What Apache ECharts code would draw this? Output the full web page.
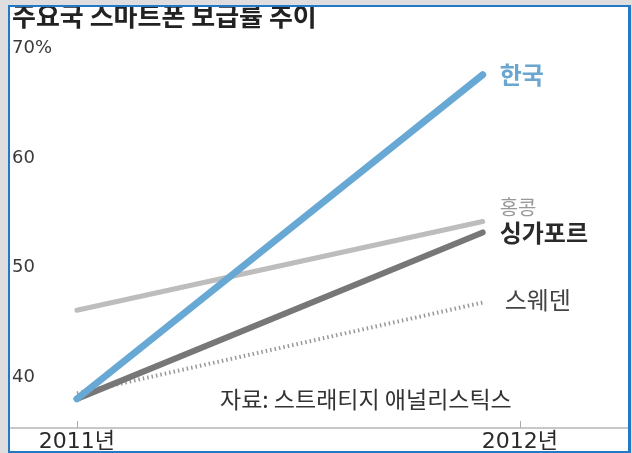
<!DOCTYPE html>
<html>
<head>
<meta charset="utf-8">
<script src="https://cdn.jsdelivr.net/npm/echarts@6/dist/echarts.min.js"></script>
<style>
  html, body { margin: 0; padding: 0; background: #dedede; width: 632px; height: 453px; overflow: hidden; }
  #chart {
    position: absolute; left: 8px; top: 5px; width: 623px; height: 448px;
    box-sizing: border-box; border: 2px solid #2478c8; border-right-width: 3px;
    background: #fff;
  }
</style>
</head>
<body>
<div id="chart"></div>
<script>
// 연도 (x 위치), 선 끝은 2012 눈금보다 조금 앞
const years = [2011, 2011.916];
const yearTicks = [2011, 2012];
const pctTicks = [40, 50, 60, 70];

// 보급률 (%)
const korea = [38, 67.6];
const hongKong = [46.1, 54.2];
const singapore = [38, 53.2];
const sweden = [38.5, 46.8];

const names = ['스웨덴', '홍콩', '싱가포르', '한국'];

const toPts = arr => arr.map((v, i) => [years[i], v]);

const cjk = '"Noto Sans CJK KR", "DejaVu Sans", sans-serif';
const num = '"DejaVu Sans", "Noto Sans CJK KR", sans-serif';

const chart = echarts.init(document.getElementById('chart'));
chart.setOption({
    animation: false,
    title: {
        text: '주요국 스마트폰 보급률 추이',
        left: 2,
        top: -4,
        padding: 0,
        textStyle: { fontFamily: cjk, fontSize: 26, fontWeight: 'bold', color: '#222' }
    },
    grid: { left: 0, right: 0, top: 41.5, bottom: 23, containLabel: false, outerBoundsMode: 'none' },
    xAxis: {
        type: 'value',
        min: 2010.849,
        max: 2012.244,
        axisLine: { show: true, lineStyle: { color: '#c8c8c8', width: 2 } },
        axisTick: { show: true, inside: true, length: 7, customValues: yearTicks, lineStyle: { color: '#aaa' } },
        axisLabel: {
            customValues: yearTicks,
            margin: 3,
            formatter: v => v + '년',
            fontFamily: num,
            fontSize: 22,
            color: '#2a2a2a'
        },
        splitLine: { show: false }
    },
    yAxis: {
        type: 'value',
        min: 35.34,
        max: 70,
        axisLine: { show: false },
        axisTick: { show: false },
        splitLine: { show: false },
        axisLabel: {
            customValues: pctTicks,
            inside: true,
            margin: 2,
            formatter: v => v === 70 ? '70%' : String(v),
            fontFamily: num,
            fontSize: 18,
            color: '#3a3a3a'
        }
    },
    graphic: [{
        type: 'text',
        left: 210,
        top: 381,
        style: {
            text: '자료: 스트래티지 애널리스틱스',
            font: '23px ' + cjk,
            fill: '#333'
        }
    }],
    series: [
        {
            name: names[0], type: 'line', data: toPts(sweden), symbol: 'none', z: 1,
            lineStyle: { color: '#999', width: 4, type: [1.5, 3] },
            endLabel: { show: true, formatter: '{a}', distance: 22, offset: [0, -3], color: '#444', fontFamily: cjk, fontSize: 24 }
        },
        {
            name: names[1], type: 'line', data: toPts(hongKong), symbol: 'none', z: 2,
            lineStyle: { color: '#bdbdbd', width: 5, cap: 'round' },
            endLabel: { show: true, formatter: '{a}', distance: 17, offset: [0, -14], color: '#999', fontFamily: cjk, fontSize: 20 }
        },
        {
            name: names[2], type: 'line', data: toPts(singapore), symbol: 'none', z: 3,
            lineStyle: { color: '#777', width: 6, cap: 'round' },
            endLabel: { show: true, formatter: '{a}', distance: 17, offset: [0, 0], color: '#2a2a2a', fontFamily: cjk, fontSize: 24, fontWeight: 'bold' }
        },
        {
            name: names[3], type: 'line', data: toPts(korea), symbol: 'none', z: 4,
            lineStyle: { color: '#68a8d4', width: 7, cap: 'round' },
            endLabel: { show: true, formatter: '{a}', distance: 17, offset: [0, 0], color: '#6aa6cf', fontFamily: cjk, fontSize: 24, fontWeight: 'bold' }
        }
    ]
});
</script>
</body>
</html>
